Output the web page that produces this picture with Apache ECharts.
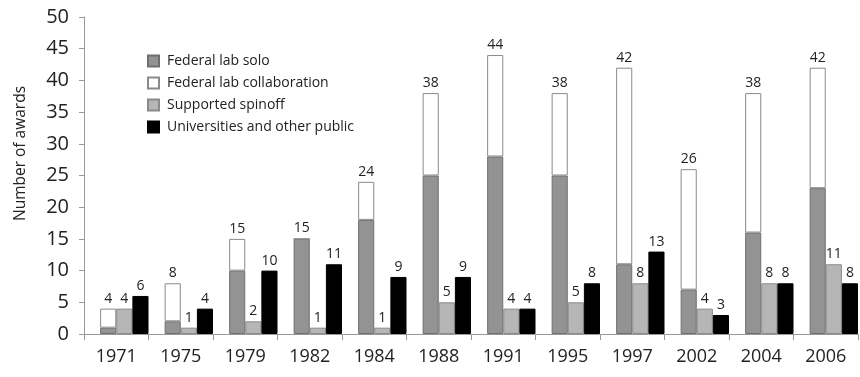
<!DOCTYPE html>
<html>
<head>
<meta charset="utf-8">
<script src="https://cdn.jsdelivr.net/npm/echarts@6/dist/echarts.min.js"></script>
<style>
  html, body { margin: 0; padding: 0; background: #fff; }
  #chart { width: 860px; height: 377px; }
</style>
</head>
<body>
<div id="chart"></div>
<script>
// Award counts by year and source
const years = ['1971', '1975', '1979', '1982', '1984', '1988', '1991', '1995', '1997', '2002', '2004', '2006'];
const labSolo = [1, 2, 10, 15, 18, 25, 28, 25, 11, 7, 16, 23];
const labCollab = [3, 6, 5, 0, 6, 13, 16, 13, 31, 19, 22, 19];
const spinoff = [4, 1, 2, 1, 1, 5, 4, 5, 8, 4, 8, 11];
const universities = [6, 4, 10, 11, 9, 9, 4, 8, 13, 3, 8, 8];

const FONT = '"Open Sans", "Noto Sans", sans-serif';
const labelStyle = { show: true, position: 'top', distance: 3, color: '#222', fontSize: 14, fontFamily: FONT };

const chart = echarts.init(document.getElementById('chart'));
chart.setOption({
  animation: false,
  backgroundColor: '#fff',
  grid: { left: 84, right: 2, top: 17, bottom: 43 },
  legend: {
    orient: 'vertical',
    left: 142,
    top: 49,
    icon: 'rect',
    itemWidth: 11,
    itemHeight: 11,
    itemGap: 8,
    data: ['Federal lab solo', 'Federal lab collaboration', 'Supported spinoff', 'Universities and other public'],
    textStyle: { fontSize: 14, color: '#222', fontFamily: FONT, padding: [0, 0, 0, 3] }
  },
  xAxis: {
    type: 'category',
    data: years,
    axisLine: { lineStyle: { color: '#999', width: 1 } },
    axisTick: { show: true, length: 6, lineStyle: { color: '#999' } },
    axisLabel: { color: '#222', fontSize: 18, fontFamily: FONT, margin: 14 }
  },
  yAxis: {
    type: 'value',
    min: 0,
    max: 50,
    interval: 5,
    name: 'Number of awards',
    nameLocation: 'middle',
    nameGap: 55,
    nameTextStyle: { fontSize: 15.5, color: '#222', fontFamily: FONT, padding: [0, 0, 0, 44] },
    splitLine: { show: false },
    axisLine: { show: true, lineStyle: { color: '#999', width: 1 } },
    axisTick: { show: true, length: 5, lineStyle: { color: '#999' } },
    axisLabel: { color: '#222', fontSize: 20, fontFamily: FONT, margin: 15 }
  },
  series: [
    // empty slot that keeps the bar groups pushed to the right of each category
    { name: 'gap', type: 'bar', data: [], barGap: '0%', barCategoryGap: '0%' },
    {
      name: 'Federal lab solo', type: 'bar', stack: 'lab', data: labSolo,
      itemStyle: { color: '#939393', borderColor: '#6f6f6f', borderWidth: 1 }
    },
    {
      name: 'Federal lab collaboration', type: 'bar', stack: 'lab', data: labCollab,
      itemStyle: { color: '#ffffff', borderColor: '#8a8a8a', borderWidth: 1 },
      label: Object.assign({}, labelStyle, {
        formatter: p => String(labSolo[p.dataIndex] + labCollab[p.dataIndex])
      })
    },
    {
      name: 'Supported spinoff', type: 'bar', data: spinoff,
      itemStyle: { color: '#b6b6b6', borderColor: '#8a8a8a', borderWidth: 1 },
      label: labelStyle
    },
    {
      name: 'Universities and other public', type: 'bar', data: universities,
      itemStyle: { color: '#000000', borderColor: '#000', borderWidth: 1 },
      label: labelStyle
    }
  ]
});
</script>
</body>
</html>
